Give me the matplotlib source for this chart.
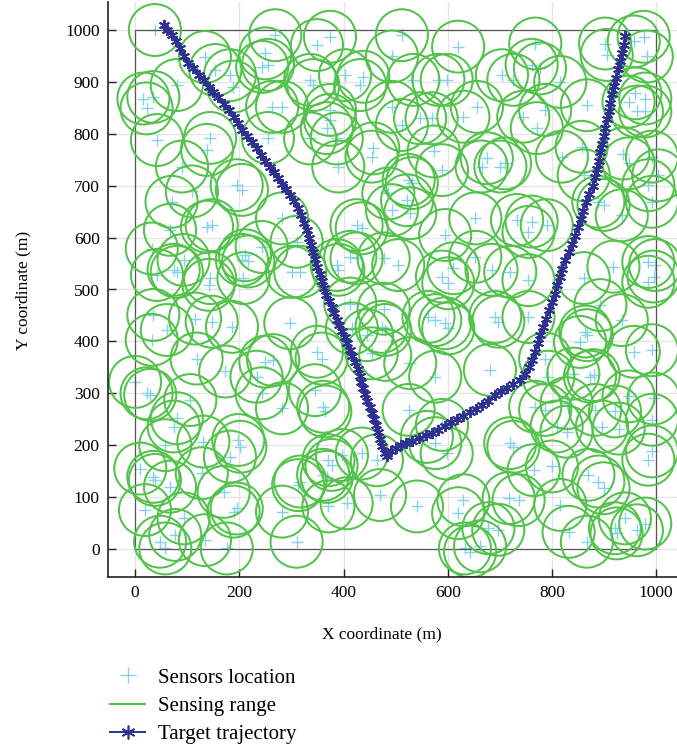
import matplotlib
matplotlib.use("Agg")
import matplotlib.pyplot as plt
from matplotlib.patches import Circle, Rectangle
from matplotlib.collections import PatchCollection
from matplotlib.lines import Line2D

plt.rcParams['font.family'] = ['Liberation Serif', 'DejaVu Serif']

# ---- data ----
sensor_x = [38, 16, 35, 22, 42, 80, 134, 154, 182, 188, 250, 255, 244, 269, 282, 263, 255, 144, 90, 109, 195, 205, 70, 138,
            349, 374, 512, 620, 336, 342, 403, 438, 432, 493, 534, 582, 598, 374, 374, 368, 387, 336, 457, 454, 390, 493, 547, 569, 512, 630, 656, 573, 589, 525, 531, 665, 486,
            768, 761, 777, 902, 905, 976, 982, 957, 704, 726, 816, 867, 960, 947, 979, 979, 963, 745, 787, 771, 710, 701, 675, 819, 857, 937, 947, 992, 1004, 985, 861,
            138, 147, 67, 32, 93, 74, 80, 42, 144, 141, 211, 217, 205, 243, 282, 208, 301, 298, 35, 61, 32, 115, 147, 186, 265, 250, 118, 173, 0, 233,
            425, 435, 493, 522, 528, 595, 653, 413, 425, 477, 505, 589, 601, 611, 653, 387, 390, 413, 477, 416, 473, 480, 445, 563, 576, 595, 601, 528, 349, 358, 310, 317, 454, 480, 576,
            733, 761, 755, 790, 889, 899, 934, 992, 684, 720, 755, 861, 918, 985, 998, 995, 985, 691, 697, 755, 893, 934, 864, 867, 854, 957, 992, 787, 841, 873, 880, 681, 793,
            22, 29, 106, 80, 74, 58, 131, 10, 35, 38, 67, 128, 198, 202, 182, 170, 19, 93, 77, 48, 58, 134, 176, 243, 282, 195, 189, 282, 310, 313,
            361, 365, 525, 589, 560, 576, 598, 371, 377, 397, 435, 464, 361, 368, 317, 470, 406, 371, 541, 630, 620, 633, 643, 662, 345,
            768, 787, 828, 809, 828, 883, 896, 928, 921, 947, 995, 992, 720, 726, 765, 800, 870, 889, 899, 992, 985, 717, 736, 816, 678, 697, 832, 867, 921, 924, 940, 979, 963]
sensor_y = [1000, 868, 871, 849, 788, 894, 948, 923, 913, 891, 955, 933, 929, 990, 852, 852, 792, 792, 737, 689, 701, 692, 669, 769,
            971, 987, 990, 968, 904, 894, 913, 910, 894, 949, 904, 904, 904, 846, 827, 811, 791, 791, 772, 756, 737, 852, 830, 830, 817, 833, 852, 766, 730, 711, 705, 737, 685,
            974, 933, 926, 974, 952, 987, 949, 978, 913, 904, 900, 855, 878, 862, 868, 843, 843, 833, 846, 811, 743, 737, 753, 756, 775, 762, 743, 756, 720, 701, 720,
            621, 624, 615, 579, 557, 538, 534, 528, 522, 509, 566, 554, 557, 582, 637, 522, 534, 435, 451, 422, 403, 444, 438, 428, 364, 361, 367, 342, 322, 332,
            624, 618, 653, 672, 647, 605, 637, 563, 560, 560, 547, 525, 512, 541, 563, 547, 538, 473, 463, 425, 428, 422, 412, 447, 441, 435, 425, 358, 380, 367, 592, 534, 377, 374, 332,
            634, 631, 611, 624, 669, 663, 643, 669, 538, 534, 518, 522, 544, 553, 547, 525, 515, 447, 438, 447, 470, 441, 419, 412, 399, 380, 383, 367, 338, 332, 335, 345, 332,
            300, 297, 287, 252, 236, 200, 207, 155, 139, 133, 120, 146, 210, 197, 178, 110, 75, 59, 27, 14, 1, 17, 1, 300, 271, 78, 72, 72, 14, 123,
            274, 265, 268, 239, 216, 204, 184, 171, 162, 181, 184, 171, 143, 139, 130, 104, 88, 82, 82, 94, 69, 1, -5, 5, 306,
            274, 268, 281, 236, 226, 268, 236, 232, 265, 294, 290, 249, 204, 197, 152, 159, 143, 130, 117, 188, 172, 98, 94, 85, 40, 37, 33, 14, 40, 30, 59, 49, 36]
sensing_radius = 50

traj_x = [55, 62, 70, 78, 86, 94, 102, 112, 122, 132, 142, 150, 160, 170, 180, 190, 198, 206, 215, 224, 233, 242, 250, 258, 266,
          274, 282, 290, 298, 305, 312, 318, 324, 329, 334, 338, 342, 346, 350, 354, 358, 362, 367, 372, 377, 382, 387, 392, 397,
          402, 407, 412, 417, 422, 427, 431, 434, 438, 442, 446, 450, 454, 458, 462, 466, 470, 474, 479, 484, 492, 500, 510, 520,
          532, 545, 558, 570, 582, 594, 606, 618, 630, 642, 654, 666, 678, 690, 702, 714, 726, 738, 748, 756, 762, 768, 773, 778,
          783, 789, 795, 800, 805, 810, 815, 820, 826, 832, 838, 844, 850, 855, 860, 866, 872, 878, 882, 886, 890, 893, 896, 899,
          902, 906, 909, 912, 915, 919, 923, 927, 931, 935, 938, 940]
traj_y = [1010, 1000, 990, 978, 965, 950, 937, 926, 914, 903, 891, 881, 870, 858, 846, 832, 820, 808, 796, 784, 772, 760, 748, 737, 726,
          715, 704, 693, 682, 670, 657, 643, 629, 615, 600, 586, 572, 558, 544, 530, 516, 503, 490, 478, 466, 454, 442, 431, 420,
          408, 396, 384, 372, 360, 347, 334, 322, 310, 298, 286, 274, 262, 250, 238, 225, 212, 198, 185, 180, 188, 194, 200, 205,
          209, 214, 219, 224, 230, 237, 244, 250, 257, 263, 270, 278, 286, 297, 305, 311, 317, 326, 337, 350, 365, 380, 396, 412,
          428, 444, 460, 476, 492, 508, 524, 540, 556, 572, 588, 603, 620, 636, 652, 668, 684, 700, 716, 732, 748, 764, 780, 796,
          812, 828, 844, 860, 876, 892, 908, 924, 940, 956, 972, 988]

x_ticks = [0, 200, 400, 600, 800, 1000]
y_ticks = [0, 100, 200, 300, 400, 500, 600, 700, 800, 900, 1000]
legend_labels = ["Sensors location", "Sensing range", "Target trajectory"]

# ---- style ----
c_sensor = '#86d3e6'
c_range = '#52c24a'
c_traj = '#2e3192'
asterisk = (6, 2, 0)

W, H = 677, 746
fig = plt.figure(figsize=(W / 100, H / 100), dpi=100)
ax = fig.add_axes([108 / W, (H - 577) / H, (W - 108) / W, (577 - 2) / H])
ax.set_xlim(-52, 1040)
ax.set_ylim(-54, 1054)

ax.set_xticks(x_ticks)
ax.set_yticks(y_ticks)
ax.grid(True, color='#e4e4e4', linewidth=0.9, zorder=0)
ax.set_axisbelow(True)

ax.plot(sensor_x, sensor_y, linestyle='none', marker='+', markersize=9,
        markeredgewidth=1.0, color=c_sensor, zorder=1)

circles = [Circle((x, y), sensing_radius) for x, y in zip(sensor_x, sensor_y)]
pc = PatchCollection(circles, facecolor='none', edgecolor=c_range, linewidth=1.45, zorder=2)
ax.add_collection(pc)

ax.add_patch(Rectangle((0, 0), 1000, 1000, fill=False, edgecolor='#555555', linewidth=0.9, zorder=1.5))

ax.plot(traj_x, traj_y, color=c_traj, marker=asterisk, markersize=8, markeredgewidth=1.4,
        linewidth=1.5, zorder=3)

for s in ['top', 'right']:
    ax.spines[s].set_visible(False)
for s in ['left', 'bottom']:
    ax.spines[s].set_linewidth(1.2)
    ax.spines[s].set_color('#222222')

ax.tick_params(direction='in', length=6, width=1.0, labelsize=12.5, pad=6, color='#222222')

ax.set_xlabel('X coordinate (m)', fontsize=12.5)
ax.set_ylabel('Y coordinate (m)', fontsize=12.5)
ax.xaxis.set_label_coords((382 - 108) / 569, (577 - 626) / 575)
ax.yaxis.set_label_coords((31 - 108) / 569, (577 - 290) / 575)

handles = [
    Line2D([], [], linestyle='none', marker='+', markersize=12, markeredgewidth=1.0, color=c_sensor),
    Line2D([], [], color=c_range, linewidth=1.5),
    Line2D([], [], color=c_traj, linewidth=1.4, marker=asterisk, markersize=10, markeredgewidth=1.2),
]
fig.legend(handles, legend_labels, loc='upper left', bbox_to_anchor=(110 / W, 1 - 668 / H),
           frameon=False, fontsize=15, handlelength=1.7, handletextpad=0.6, labelspacing=0.42,
           borderaxespad=0, borderpad=0)

fig.savefig('out.png', dpi=100)
